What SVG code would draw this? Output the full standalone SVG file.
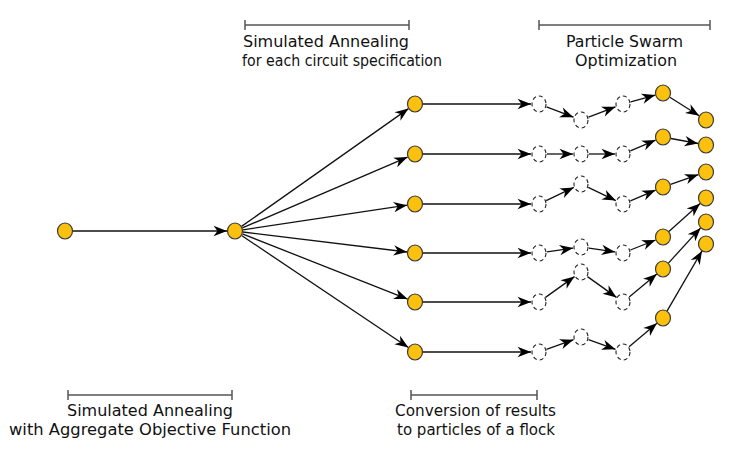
<svg xmlns="http://www.w3.org/2000/svg" width="755" height="452" viewBox="0 0 755 452">
<style>
.n{fill:#FBC10E;stroke:#3a3a3a;stroke-width:1.2}
.d{fill:#fff;stroke:#222;stroke-width:1.1;stroke-dasharray:4 3}
.e{stroke:#111;stroke-width:1.3;fill:none;marker-end:url(#ah)}
.b{stroke:#555;stroke-width:1.5;fill:none}
.t{font-family:"DejaVu Sans",sans-serif;font-size:16.5px;fill:#111}
</style>
<defs>
<marker id="ah" viewBox="-14 -6 15 12" refX="0" refY="0" markerWidth="15" markerHeight="12" markerUnits="userSpaceOnUse" orient="auto">
<path d="M0,0 L-13.5,-5.2 L-9.5,0 L-13.5,5.2 Z" fill="#000"/>
</marker>
</defs>
<rect width="755" height="452" fill="#fff"/>
<g id="labels">
<path class="b" d="M245,25H409M245,20V30M409,20V30"/>
<text class="t" x="243" y="46.5" textLength="166" lengthAdjust="spacingAndGlyphs">Simulated Annealing</text>
<text class="t" x="242" y="66" textLength="200" lengthAdjust="spacingAndGlyphs">for each circuit specification</text>
<path class="b" d="M539,25H710M539,20V30M710,20V30"/>
<text class="t" x="566" y="46.5" textLength="117" lengthAdjust="spacingAndGlyphs">Particle Swarm</text>
<text class="t" x="575" y="66" textLength="102" lengthAdjust="spacingAndGlyphs">Optimization</text>
<path class="b" d="M68,395H232M68,390V400M232,390V400"/>
<text class="t" x="67" y="415.5" textLength="166" lengthAdjust="spacingAndGlyphs">Simulated Annealing</text>
<text class="t" x="9" y="435" textLength="282" lengthAdjust="spacingAndGlyphs">with Aggregate Objective Function</text>
<path class="b" d="M411,395H537M411,390V400M537,390V400"/>
<text class="t" x="395" y="415.5" textLength="161" lengthAdjust="spacingAndGlyphs">Conversion of results</text>
<text class="t" x="397" y="435" textLength="158" lengthAdjust="spacingAndGlyphs">to particles of a flock</text>
</g>
<g id="connectors">
<line class="e" x1="73" y1="231" x2="227" y2="231"/>
<line class="e" x1="241.5" y1="226.4" x2="408.5" y2="108.6"/>
<line class="e" x1="242.4" y1="227.9" x2="407.6" y2="157.1"/>
<line class="e" x1="242.9" y1="229.8" x2="407.1" y2="205.2"/>
<line class="e" x1="242.9" y1="232" x2="407.1" y2="252"/>
<line class="e" x1="242.4" y1="233.9" x2="407.6" y2="299.1"/>
<line class="e" x1="241.6" y1="235.5" x2="408.4" y2="347.5"/>
<line class="e" x1="423" y1="104" x2="531" y2="104"/>
<line class="e" x1="423" y1="154" x2="531" y2="154"/>
<line class="e" x1="423" y1="204" x2="531" y2="204"/>
<line class="e" x1="423" y1="253" x2="531" y2="253"/>
<line class="e" x1="423" y1="302" x2="531" y2="302"/>
<line class="e" x1="423" y1="352" x2="531" y2="352"/>
<line class="e" x1="546.5" y1="106.8" x2="573.5" y2="117.2"/>
<line class="e" x1="588.5" y1="117.2" x2="615.5" y2="106.8"/>
<line class="e" x1="630.7" y1="101.9" x2="655.3" y2="95.1"/>
<line class="e" x1="669.8" y1="97.3" x2="699.2" y2="115.7"/>
<line class="e" x1="547" y1="154" x2="573" y2="154"/>
<line class="e" x1="589" y1="154" x2="615" y2="154"/>
<line class="e" x1="630.4" y1="150.9" x2="655.6" y2="140.1"/>
<line class="e" x1="670.9" y1="138.5" x2="698.1" y2="143.5"/>
<line class="e" x1="546.2" y1="200.6" x2="573.8" y2="187.4"/>
<line class="e" x1="588.2" y1="187.4" x2="615.8" y2="200.6"/>
<line class="e" x1="630.4" y1="200.9" x2="655.6" y2="190.1"/>
<line class="e" x1="670.6" y1="184.4" x2="698.4" y2="174.6"/>
<line class="e" x1="546.9" y1="251.9" x2="573.1" y2="248.1"/>
<line class="e" x1="588.9" y1="248.1" x2="615.1" y2="251.9"/>
<line class="e" x1="630.4" y1="250" x2="655.6" y2="240"/>
<line class="e" x1="668.9" y1="231.6" x2="700.1" y2="203.4"/>
<line class="e" x1="545.5" y1="297.4" x2="574.5" y2="276.6"/>
<line class="e" x1="587.5" y1="276.6" x2="616.5" y2="297.4"/>
<line class="e" x1="629.2" y1="296.9" x2="656.8" y2="274.1"/>
<line class="e" x1="668.4" y1="263.1" x2="700.6" y2="227.9"/>
<line class="e" x1="546.5" y1="349.3" x2="573.5" y2="339.7"/>
<line class="e" x1="588.5" y1="339.7" x2="615.5" y2="349.3"/>
<line class="e" x1="629.1" y1="346.8" x2="656.9" y2="323.2"/>
<line class="e" x1="667" y1="311.1" x2="702" y2="250.9"/>
</g>
<g id="nodeA"><ellipse class="n" cx="65" cy="231" rx="7.5" ry="8"/></g>
<g id="nodeB"><ellipse class="n" cx="235" cy="231" rx="7.5" ry="8"/></g>
<g id="sa1"><ellipse class="n" cx="415" cy="104" rx="7.5" ry="8"/></g>
<g id="sa2"><ellipse class="n" cx="415" cy="154" rx="7.5" ry="8"/></g>
<g id="sa3"><ellipse class="n" cx="415" cy="204" rx="7.5" ry="8"/></g>
<g id="sa4"><ellipse class="n" cx="415" cy="253" rx="7.5" ry="8"/></g>
<g id="sa5"><ellipse class="n" cx="415" cy="302" rx="7.5" ry="8"/></g>
<g id="sa6"><ellipse class="n" cx="415" cy="352" rx="7.5" ry="8"/></g>
<g id="p1a"><ellipse class="d" cx="539" cy="104" rx="7" ry="8"/></g>
<g id="p1b"><ellipse class="d" cx="581" cy="120" rx="7" ry="8"/></g>
<g id="p1c"><ellipse class="d" cx="623" cy="104" rx="7" ry="8"/></g>
<g id="p1d"><ellipse class="n" cx="663" cy="93" rx="7.5" ry="8"/></g>
<g id="p1e"><ellipse class="n" cx="706" cy="120" rx="7.5" ry="8"/></g>
<g id="p2a"><ellipse class="d" cx="539" cy="154" rx="7" ry="8"/></g>
<g id="p2b"><ellipse class="d" cx="581" cy="154" rx="7" ry="8"/></g>
<g id="p2c"><ellipse class="d" cx="623" cy="154" rx="7" ry="8"/></g>
<g id="p2d"><ellipse class="n" cx="663" cy="137" rx="7.5" ry="8"/></g>
<g id="p2e"><ellipse class="n" cx="706" cy="145" rx="7.5" ry="8"/></g>
<g id="p3a"><ellipse class="d" cx="539" cy="204" rx="7" ry="8"/></g>
<g id="p3b"><ellipse class="d" cx="581" cy="184" rx="7" ry="8"/></g>
<g id="p3c"><ellipse class="d" cx="623" cy="204" rx="7" ry="8"/></g>
<g id="p3d"><ellipse class="n" cx="663" cy="187" rx="7.5" ry="8"/></g>
<g id="p3e"><ellipse class="n" cx="706" cy="172" rx="7.5" ry="8"/></g>
<g id="p4a"><ellipse class="d" cx="539" cy="253" rx="7" ry="8"/></g>
<g id="p4b"><ellipse class="d" cx="581" cy="247" rx="7" ry="8"/></g>
<g id="p4c"><ellipse class="d" cx="623" cy="253" rx="7" ry="8"/></g>
<g id="p4d"><ellipse class="n" cx="663" cy="237" rx="7.5" ry="8"/></g>
<g id="p4e"><ellipse class="n" cx="706" cy="198" rx="7.5" ry="8"/></g>
<g id="p5a"><ellipse class="d" cx="539" cy="302" rx="7" ry="8"/></g>
<g id="p5b"><ellipse class="d" cx="581" cy="272" rx="7" ry="8"/></g>
<g id="p5c"><ellipse class="d" cx="623" cy="302" rx="7" ry="8"/></g>
<g id="p5d"><ellipse class="n" cx="663" cy="269" rx="7.5" ry="8"/></g>
<g id="p5e"><ellipse class="n" cx="706" cy="222" rx="7.5" ry="8"/></g>
<g id="p6a"><ellipse class="d" cx="539" cy="352" rx="7" ry="8"/></g>
<g id="p6b"><ellipse class="d" cx="581" cy="337" rx="7" ry="8"/></g>
<g id="p6c"><ellipse class="d" cx="623" cy="352" rx="7" ry="8"/></g>
<g id="p6d"><ellipse class="n" cx="663" cy="318" rx="7.5" ry="8"/></g>
<g id="p6e"><ellipse class="n" cx="706" cy="244" rx="7.5" ry="8"/></g>
</svg>
